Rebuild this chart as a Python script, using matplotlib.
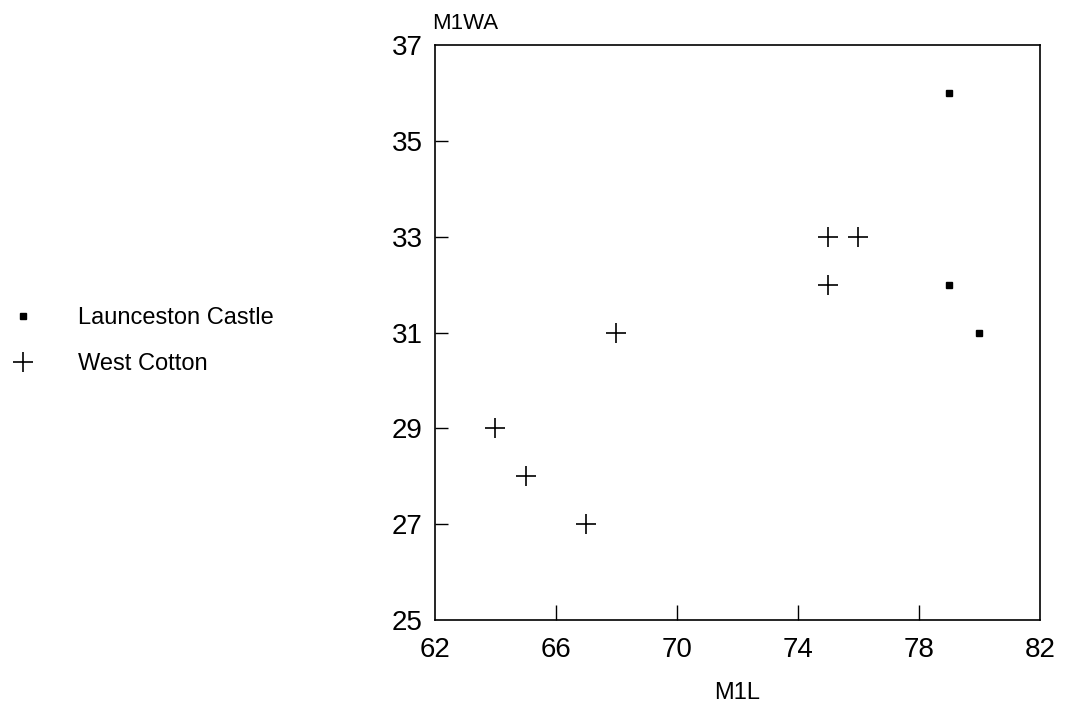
import matplotlib.pyplot as plt

plt.rcParams['font.family'] = ['Liberation Sans', 'DejaVu Sans']

# M1 length vs. M1 width (anterior) by site
lc_m1l = [79, 79, 80]
lc_m1wa = [36, 32, 31]
wc_m1l = [64, 65, 67, 68, 75, 76, 75]
wc_m1wa = [29, 28, 27, 31, 33, 33, 32]

xticks = [62, 66, 70, 74, 78, 82]
yticks = [25, 27, 29, 31, 33, 35, 37]

fig = plt.figure(figsize=(10.7, 7.12), dpi=100)
ax = fig.add_axes([0.4065, 0.1292, 0.5654, 0.8076])

ax.plot(lc_m1l, lc_m1wa, linestyle='none', marker='s', markersize=4.5,
        color='black', label='Launceston Castle')
ax.plot(wc_m1l, wc_m1wa, linestyle='none', marker='+', markersize=14,
        markeredgewidth=1.2, color='black', label='West Cotton')

ax.set_xlim(62, 82)
ax.set_ylim(25, 37)
ax.set_xticks(xticks)
ax.set_yticks(yticks)
ax.tick_params(axis='both', direction='in', length=11, width=1, labelsize=20,
               top=False, right=False)
ax.tick_params(axis='x', pad=12)
ax.tick_params(axis='y', length=9, pad=9)
# no tick marks at the corners, only the labels
for axis in (ax.xaxis, ax.yaxis):
    ticks = axis.get_major_ticks()
    ticks[0].tick1line.set_visible(False)
    ticks[-1].tick1line.set_visible(False)
for s in ax.spines.values():
    s.set_linewidth(1.2)

ax.set_xlabel('M1L', fontsize=17, labelpad=14)
fig.text(0.404, 0.952, 'M1WA', fontsize=16, ha='left', va='bottom')

fig.legend(loc='center left', bbox_to_anchor=(-0.009, 0.521), frameon=False,
           fontsize=17, handlelength=1.0, handletextpad=1.8, labelspacing=1.0)

fig.savefig('out.png', dpi=100)
